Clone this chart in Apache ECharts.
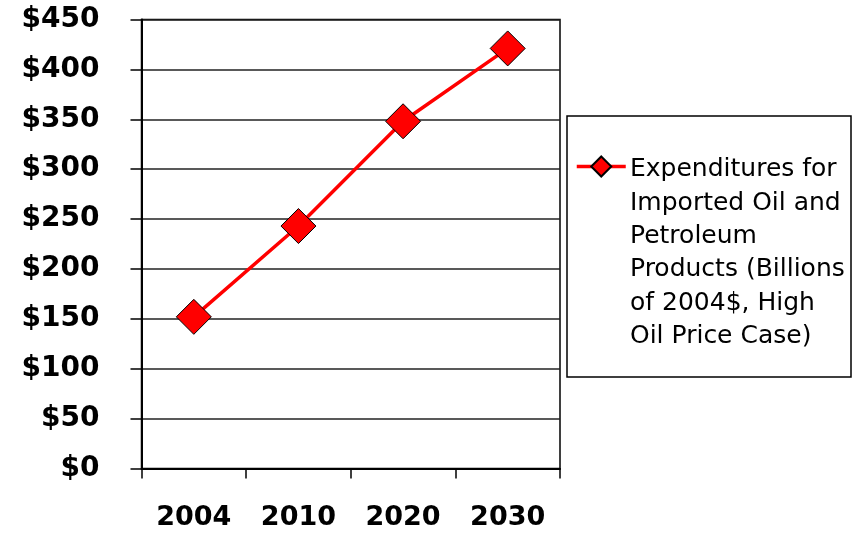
<!DOCTYPE html>
<html>
<head>
<meta charset="utf-8">
<script src="https://cdn.jsdelivr.net/npm/echarts@6/dist/echarts.min.js"></script>
<style>
html,body{margin:0;padding:0;background:#fff;}
#chart{width:863px;height:533px;}
</style>
</head>
<body>
<div id="chart"></div>
<script>
const years = ['2004', '2010', '2020', '2030'];
const expenditures = [152, 243, 348, 421];
const seriesName = 'Expenditures for\nImported Oil and\nPetroleum\nProducts (Billions\nof 2004$, High\nOil Price Case)';
const yMin = 0, yMax = 450, yStep = 50;

const chart = echarts.init(document.getElementById('chart'), null, {renderer: 'canvas'});
const LH = 33.4;
chart.setOption({
  animation: false,
  backgroundColor: '#ffffff',
  grid: {
    left: 141.5, top: 19.5, width: 418.5, height: 449,
    show: true, borderColor: '#000', borderWidth: 1.5, backgroundColor: 'transparent'
  },
  xAxis: {
    type: 'category',
    data: years,
    boundaryGap: true,
    axisLine: {show: true, lineStyle: {color: '#000', width: 2}},
    axisTick: {show: true, length: 10, inside: false, alignWithLabel: false, lineStyle: {color: '#000', width: 1.5}},
    axisLabel: {color: '#000', fontFamily: 'DejaVu Sans', fontWeight: 'bold', fontSize: 27, margin: 36},
    splitLine: {show: false}
  },
  yAxis: {
    type: 'value',
    min: yMin, max: yMax, interval: yStep,
    axisLine: {show: true, lineStyle: {color: '#000', width: 2}},
    axisTick: {show: true, length: 11, inside: false, lineStyle: {color: '#000', width: 1.5}},
    axisLabel: {color: '#000', fontFamily: 'DejaVu Sans', fontWeight: 'bold', fontSize: 28, margin: 42,
      formatter: v => '$' + v},
    splitLine: {show: true, lineStyle: {color: '#222', width: 1.5}}
  },
  legend: [{
    // legend text block (icon hidden)
    show: true,
    selectedMode: false,
    left: 624,
    top: 153,
    padding: 0,
    itemWidth: 0,
    itemHeight: 0,
    textStyle: {color: '#000', fontFamily: 'DejaVu Sans', fontSize: 25, lineHeight: LH},
    data: [seriesName]
  }, {
    // legend icon, aligned with the first text line
    show: true,
    selectedMode: false,
    left: 575,
    top: 154,
    padding: 0,
    itemWidth: 49,
    itemHeight: 25,
    lineStyle: {width: 3.5},
    formatter: () => '',
    textStyle: {fontSize: 1},
    data: [seriesName]
  }],
  graphic: [{
    type: 'rect',
    shape: {x: 567, y: 116, width: 284, height: 261},
    style: {fill: 'none', stroke: '#000', lineWidth: 1.5},
    silent: true
  }],
  series: [{
    name: seriesName,
    type: 'line',
    data: expenditures,
    symbol: 'diamond',
    symbolSize: 35,
    lineStyle: {color: '#ff0000', width: 3.5},
    itemStyle: {color: '#ff0000', borderColor: '#000', borderWidth: 1},
    z: 3
  }]
});
</script>
</body>
</html>
